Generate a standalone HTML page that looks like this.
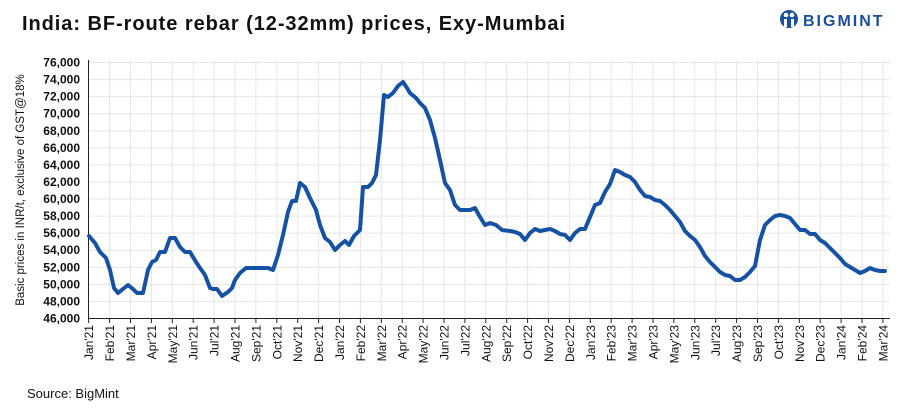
<!DOCTYPE html>
<html><head><meta charset="utf-8"><style>
body{margin:0;background:#fff;width:913px;height:411px;overflow:hidden;font-family:"Liberation Sans",Arial,sans-serif}
</style></head><body>
<svg width="913" height="411" xmlns="http://www.w3.org/2000/svg" font-family="Liberation Sans, Arial, sans-serif">
<text x="22" y="30" font-size="20" font-weight="bold" fill="#111" textLength="543" lengthAdjust="spacing">India: BF-route rebar (12-32mm) prices, Exy-Mumbai</text>
<g transform="translate(780,9)">
<circle cx="9" cy="10" r="9" fill="#1a4f9c"/>
<circle cx="6" cy="6" r="2.3" fill="#fff"/><circle cx="12" cy="6" r="2.3" fill="#fff"/>
<rect x="4" y="10" width="3" height="8" fill="#fff"/><rect x="11" y="10" width="3" height="8" fill="#fff"/>
<text x="23" y="17" font-size="16" font-weight="bold" fill="#1a4f9c" letter-spacing="2">BIGMINT</text>
</g>
<g id="grid" stroke="#e6e6e6" stroke-width="1"></g>
<g id="ylab" font-size="12" font-weight="bold" fill="#111" text-anchor="end"></g>
<g id="xlab" font-size="12" fill="#111"></g>
<line x1="88.5" y1="60" x2="88.5" y2="318.5" stroke="#222"/>
<line x1="88" y1="318.5" x2="890" y2="318.5" stroke="#222"/>
<text transform="translate(24,190) rotate(-90)" font-size="11.5" fill="#111" text-anchor="middle">Basic prices in INR/t, exclusive of GST@18%</text>
<polyline fill="none" stroke="#1552a3" stroke-width="4" stroke-linejoin="round" stroke-linecap="round" points="89,236 95,243 100,252 106,258 110,270 114,288 118,293 123,289 128,285 133,289 137,293 143,293 148,270 152,262 156,260 160,252 165,252 170,238 175,238 180,247 185,252 190,252 196,262 200,268 205,275 210,288 213,289 217,289 222,296 228,292 232,288 235,280 240,273 246,268 252,268 260,268 268,268 273,270 278,255 283,235 288,212 292,201 296,201 300,183 305,187 310,198 316,210 320,225 325,238 330,242 335,250 340,245 345,241 349,245 354,236 360,230 363,187 368,187 372,183 376,175 380,140 384,95 388,97 393,93 398,86 403,82 407,88 410,93 416,98 420,103 425,108 430,120 435,138 440,160 445,183 450,190 455,205 460,210 465,210 470,210 475,208 480,217 485,225 490,223 496,225 502,230 510,231 515,232 520,234 525,240 530,233 535,229 540,231 545,230 550,229 555,231 560,234 565,235 570,240 575,233 580,229 585,229 590,217 595,205 600,203 605,192 610,184 615,170 620,172 625,175 630,177 635,182 640,190 645,196 650,197 655,200 660,201 665,205 670,210 675,216 680,222 685,231 690,236 695,240 700,247 705,256 710,262 715,267 720,272 725,275 730,276 735,280 740,280 745,277 750,272 755,266 760,240 765,225 770,220 775,216 780,215 785,216 790,218 795,224 800,230 805,230 810,234 815,234 820,240 825,243 830,248 835,253 840,258 845,264 850,267 855,270 860,273 865,271 870,268 875,270 880,271 885,271"/>
<text x="27" y="398" font-size="13" fill="#111">Source: BigMint</text>
</svg>
<script>
var ns="http://www.w3.org/2000/svg",g=document.getElementById("grid"),yl=document.getElementById("ylab"),xl=document.getElementById("xlab");
function el(p,t,a,txt){var e=document.createElementNS(ns,t);for(var k in a)e.setAttribute(k,a[k]);if(txt)e.textContent=txt;p.appendChild(e);return e;}
for(var i=0;i<=15;i++){var v=46000+i*2000,y=318-i*256/15;
if(i>0)el(g,"line",{x1:89,x2:890,y1:y+0.5,y2:y+0.5});
el(yl,"text",{x:80,y:y+4.5},v.toLocaleString("en-US"));}
var m=["Jan","Feb","Mar","Apr","May","Jun","Jul","Aug","Sep","Oct","Nov","Dec"];
for(var j=0;j<=38;j++){var x=88.7+j*20.9;
if(j>0)el(g,"line",{x1:x,x2:x,y1:60,y2:318});
el(g,"line",{x1:x,x2:x,y1:318,y2:323,stroke:"#222"});
var lab=m[j%12]+"'"+(21+Math.floor(j/12));
el(xl,"text",{transform:"translate("+(x+4.5)+",325) rotate(-90)","text-anchor":"end"},lab);}
</script>
</body></html>
